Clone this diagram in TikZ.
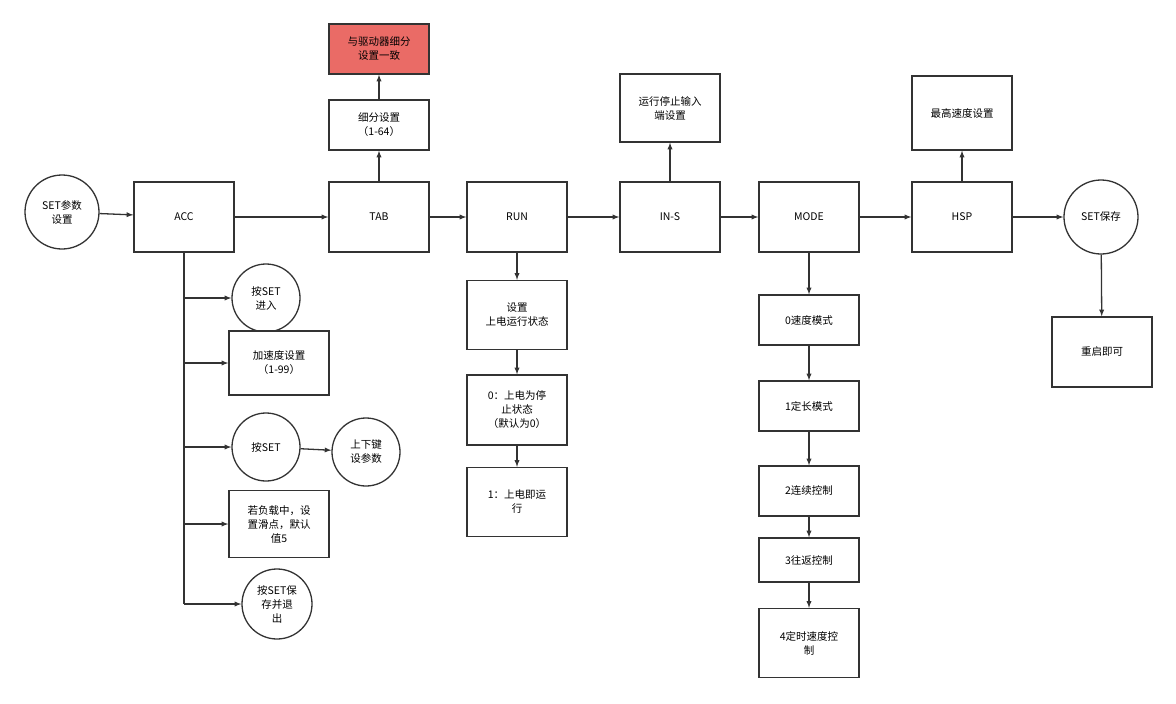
\documentclass[tikz,border=0pt]{standalone}
\usepackage{fontspec}
\setmainfont{Noto Sans CJK SC}
\begin{document}
\begin{tikzpicture}
    [
        x=1pt, y=-1pt,
        box/.style={draw=black!80, line width=1.3pt, fill=white, minimum width=100pt, align=center, font=\fontsize{10.5}{14}\selectfont, text width=90pt},
        rnd/.style={circle, draw=black!80, line width=1.3pt, fill=white, align=center, font=\fontsize{10.5}{14}\selectfont, inner sep=0pt},
        edge/.style={-latex, line width=1.3pt, draw=black!80},
    ]
    \useasboundingbox (0,0) rectangle (1176,704);

    % main row
    \node (start) at (62,212)    [rnd, minimum size=74pt] {SET参数\\设置};
    \node (acc)   at (184,217)   [box, minimum height=70pt] {ACC};
    \node (tab)   at (379,217)   [box, minimum height=70pt] {TAB};
    \node (run)   at (517,217)   [box, minimum height=70pt] {RUN};
    \node (ins)   at (670,217)   [box, minimum height=70pt] {IN-S};
    \node (mode)  at (809,217)   [box, minimum height=70pt] {MODE};
    \node (hsp)   at (962,217)   [box, minimum height=70pt] {HSP};
    \node (save)  at (1101,217)  [rnd, minimum size=74pt] {SET保存};
    \node (reboot) at (1102,352) [box, minimum height=70pt] {重启即可};

    % upper boxes
    \node (sub)   at (379,125)   [box, minimum height=50pt] {细分设置\\（1-64）};
    \node (drv)   at (379,49)    [box, minimum height=50pt, fill={rgb,255:red,234;green,107;blue,102}] {与驱动器细分\\设置一致};
    \node (stop)  at (670,108)   [box, minimum height=68pt] {运行停止输入\\端设置};
    \node (max)   at (962,113)   [box, minimum height=74pt] {最高速度设置};

    % acc branch
    \coordinate (trunk) at (184,604);
    \node (k1)    at (266,298)   [rnd, minimum size=68pt] {按SET\\进入};
    \node (k2)    at (279,363)   [box, minimum height=64pt] {加速度设置\\（1-99）};
    \node (k3)    at (266,447)   [rnd, minimum size=68pt] {按SET};
    \node (k4)    at (366,452)   [rnd, minimum size=68pt] {上下键\\设参数};
    \node (k5)    at (279,524)   [box, minimum height=67pt] {若负载中，设\\置滑点，默认\\值5};
    \node (k6)    at (277,604)   [rnd, minimum size=70pt] {按SET保\\存并退\\出};

    % run branch
    \node (r1)    at (517,315)   [box, minimum height=69pt] {设置\\上电运行状态};
    \node (r2)    at (517,410)   [box, minimum height=70pt] {0：上电为停\\止状态\\（默认为0）};
    \node (r3)    at (517,502)   [box, minimum height=69pt] {1：上电即运\\行};

    % mode branch
    \node (m0)    at (809,320)   [box, minimum height=50pt] {0速度模式};
    \node (m1)    at (809,406)   [box, minimum height=50pt] {1定长模式};
    \node (m2)    at (809,491)   [box, minimum height=50pt] {2连续控制};
    \node (m3)    at (809,560)   [box, minimum height=44pt] {3往返控制};
    \node (m4)    at (809,643)   [box, minimum height=69pt] {4定时速度控\\制};

    \draw [edge] (start) -- (acc);
    \draw [edge] (acc) -- (tab);
    \draw [edge] (tab) -- (run);
    \draw [edge] (run) -- (ins);
    \draw [edge] (ins) -- (mode);
    \draw [edge] (mode) -- (hsp);
    \draw [edge] (hsp) -- (save);
    \draw [edge] (save) -- (reboot);
    \draw [edge] (tab) -- (sub);
    \draw [edge] (sub) -- (drv);
    \draw [edge] (ins.north -| stop) ++(0,0) -- (stop);
    \draw [edge] (hsp) -- (max);

    \draw [line width=1.3pt, draw=black!80] (acc.south) -- (trunk);
    \draw [edge] (k1 -| acc) -- (k1);
    \draw [edge] (k2 -| acc) -- (k2);
    \draw [edge] (k3 -| acc) -- (k3);
    \draw [edge] (k3) -- (k4);
    \draw [edge] (k5 -| acc) -- (k5);
    \draw [edge] (trunk) -- (k6);

    \draw [edge] (run) -- (r1);
    \draw [edge] (r1) -- (r2);
    \draw [edge] (r2) -- (r3);

    \draw [edge] (mode) -- (m0);
    \draw [edge] (m0) -- (m1);
    \draw [edge] (m1) -- (m2);
    \draw [edge] (m2) -- (m3);
    \draw [edge] (m3) -- (m4);

\end{tikzpicture}
\end{document}
